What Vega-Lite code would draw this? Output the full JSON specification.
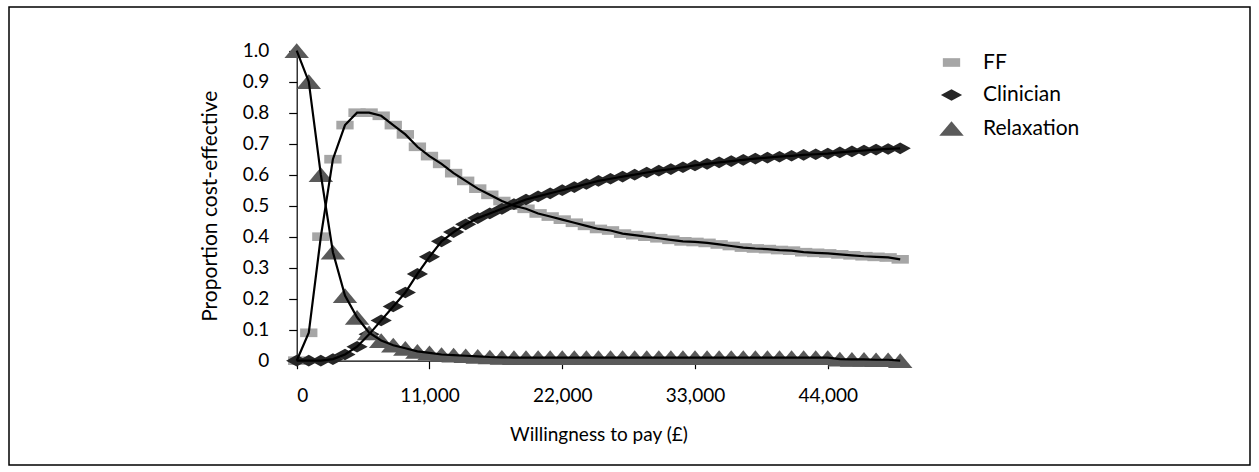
{
  "$schema": "https://vega.github.io/schema/vega-lite/v6.json",
  "width": 1241,
  "height": 458,
  "padding": {"left": 9, "top": 7, "right": 9, "bottom": 7},
  "autosize": {"type": "none"},
  "background": "#ffffff",
  "config": {
    "view": {"stroke": "#000000", "strokeWidth": 1.5},
    "font": "Lato",
    "axis": {"labelFont": "Lato", "titleFont": "Lato", "labelColor": "#000", "titleColor": "#000", "domainColor": "#000", "tickColor": "#000", "grid": false, "labelFontSize": 19, "titleFontSize": 20, "titleFontWeight": "normal", "domainWidth": 1.2, "tickWidth": 1.2},
    "legend": {"labelFont": "Lato", "labelFontSize": 21, "labelColor": "#000"}
  },
  "datasets": {
    "pts": [
      {"x":0,"s":"FF","v":0},{"x":1000,"s":"FF","v":0.09},{"x":2000,"s":"FF","v":0.40},{"x":3000,"s":"FF","v":0.65},{"x":4000,"s":"FF","v":0.76},{"x":5000,"s":"FF","v":0.80},{"x":6000,"s":"FF","v":0.80},{"x":7000,"s":"FF","v":0.79},{"x":8000,"s":"FF","v":0.76},{"x":9000,"s":"FF","v":0.73},{"x":10000,"s":"FF","v":0.69},{"x":11000,"s":"FF","v":0.66},{"x":12000,"s":"FF","v":0.635},{"x":13000,"s":"FF","v":0.605},{"x":14000,"s":"FF","v":0.58},{"x":15000,"s":"FF","v":0.555},{"x":16000,"s":"FF","v":0.535},{"x":17000,"s":"FF","v":0.515},{"x":18000,"s":"FF","v":0.50},{"x":19000,"s":"FF","v":0.49},{"x":20000,"s":"FF","v":0.475},{"x":21000,"s":"FF","v":0.465},{"x":22000,"s":"FF","v":0.455},{"x":23000,"s":"FF","v":0.445},{"x":24000,"s":"FF","v":0.435},{"x":25000,"s":"FF","v":0.425},{"x":26000,"s":"FF","v":0.42},{"x":27000,"s":"FF","v":0.41},{"x":28000,"s":"FF","v":0.405},{"x":29000,"s":"FF","v":0.40},{"x":30000,"s":"FF","v":0.395},{"x":31000,"s":"FF","v":0.39},{"x":32000,"s":"FF","v":0.385},{"x":33000,"s":"FF","v":0.383},{"x":34000,"s":"FF","v":0.38},{"x":35000,"s":"FF","v":0.375},{"x":36000,"s":"FF","v":0.37},{"x":37000,"s":"FF","v":0.365},{"x":38000,"s":"FF","v":0.362},{"x":39000,"s":"FF","v":0.36},{"x":40000,"s":"FF","v":0.357},{"x":41000,"s":"FF","v":0.355},{"x":42000,"s":"FF","v":0.35},{"x":43000,"s":"FF","v":0.348},{"x":44000,"s":"FF","v":0.346},{"x":45000,"s":"FF","v":0.343},{"x":46000,"s":"FF","v":0.34},{"x":47000,"s":"FF","v":0.337},{"x":48000,"s":"FF","v":0.335},{"x":49000,"s":"FF","v":0.333},{"x":50000,"s":"FF","v":0.327},
      {"x":0,"s":"Clinician","v":0},{"x":1000,"s":"Clinician","v":0},{"x":2000,"s":"Clinician","v":0},{"x":3000,"s":"Clinician","v":0.005},{"x":4000,"s":"Clinician","v":0.02},{"x":5000,"s":"Clinician","v":0.045},{"x":6000,"s":"Clinician","v":0.085},{"x":7000,"s":"Clinician","v":0.13},{"x":8000,"s":"Clinician","v":0.175},{"x":9000,"s":"Clinician","v":0.22},{"x":10000,"s":"Clinician","v":0.28},{"x":11000,"s":"Clinician","v":0.335},{"x":12000,"s":"Clinician","v":0.385},{"x":13000,"s":"Clinician","v":0.415},{"x":14000,"s":"Clinician","v":0.44},{"x":15000,"s":"Clinician","v":0.46},{"x":16000,"s":"Clinician","v":0.475},{"x":17000,"s":"Clinician","v":0.49},{"x":18000,"s":"Clinician","v":0.505},{"x":19000,"s":"Clinician","v":0.52},{"x":20000,"s":"Clinician","v":0.53},{"x":21000,"s":"Clinician","v":0.54},{"x":22000,"s":"Clinician","v":0.55},{"x":23000,"s":"Clinician","v":0.56},{"x":24000,"s":"Clinician","v":0.57},{"x":25000,"s":"Clinician","v":0.58},{"x":26000,"s":"Clinician","v":0.587},{"x":27000,"s":"Clinician","v":0.594},{"x":28000,"s":"Clinician","v":0.60},{"x":29000,"s":"Clinician","v":0.607},{"x":30000,"s":"Clinician","v":0.613},{"x":31000,"s":"Clinician","v":0.618},{"x":32000,"s":"Clinician","v":0.624},{"x":33000,"s":"Clinician","v":0.63},{"x":34000,"s":"Clinician","v":0.635},{"x":35000,"s":"Clinician","v":0.64},{"x":36000,"s":"Clinician","v":0.644},{"x":37000,"s":"Clinician","v":0.648},{"x":38000,"s":"Clinician","v":0.652},{"x":39000,"s":"Clinician","v":0.655},{"x":40000,"s":"Clinician","v":0.658},{"x":41000,"s":"Clinician","v":0.661},{"x":42000,"s":"Clinician","v":0.664},{"x":43000,"s":"Clinician","v":0.666},{"x":44000,"s":"Clinician","v":0.668},{"x":45000,"s":"Clinician","v":0.672},{"x":46000,"s":"Clinician","v":0.675},{"x":47000,"s":"Clinician","v":0.678},{"x":48000,"s":"Clinician","v":0.681},{"x":49000,"s":"Clinician","v":0.683},{"x":50000,"s":"Clinician","v":0.685},
      {"x":0,"s":"Relaxation","v":1.0},{"x":1000,"s":"Relaxation","v":0.90},{"x":2000,"s":"Relaxation","v":0.60},{"x":3000,"s":"Relaxation","v":0.35},{"x":4000,"s":"Relaxation","v":0.21},{"x":5000,"s":"Relaxation","v":0.14},{"x":6000,"s":"Relaxation","v":0.09},{"x":7000,"s":"Relaxation","v":0.065},{"x":8000,"s":"Relaxation","v":0.05},{"x":9000,"s":"Relaxation","v":0.04},{"x":10000,"s":"Relaxation","v":0.03},{"x":11000,"s":"Relaxation","v":0.025},{"x":12000,"s":"Relaxation","v":0.02},{"x":13000,"s":"Relaxation","v":0.018},{"x":14000,"s":"Relaxation","v":0.016},{"x":15000,"s":"Relaxation","v":0.014},{"x":16000,"s":"Relaxation","v":0.012},{"x":17000,"s":"Relaxation","v":0.011},{"x":18000,"s":"Relaxation","v":0.01},{"x":19000,"s":"Relaxation","v":0.01},{"x":20000,"s":"Relaxation","v":0.01},{"x":21000,"s":"Relaxation","v":0.01},{"x":22000,"s":"Relaxation","v":0.01},{"x":23000,"s":"Relaxation","v":0.01},{"x":24000,"s":"Relaxation","v":0.01},{"x":25000,"s":"Relaxation","v":0.01},{"x":26000,"s":"Relaxation","v":0.01},{"x":27000,"s":"Relaxation","v":0.01},{"x":28000,"s":"Relaxation","v":0.01},{"x":29000,"s":"Relaxation","v":0.01},{"x":30000,"s":"Relaxation","v":0.01},{"x":31000,"s":"Relaxation","v":0.01},{"x":32000,"s":"Relaxation","v":0.01},{"x":33000,"s":"Relaxation","v":0.01},{"x":34000,"s":"Relaxation","v":0.01},{"x":35000,"s":"Relaxation","v":0.01},{"x":36000,"s":"Relaxation","v":0.01},{"x":37000,"s":"Relaxation","v":0.01},{"x":38000,"s":"Relaxation","v":0.01},{"x":39000,"s":"Relaxation","v":0.01},{"x":40000,"s":"Relaxation","v":0.01},{"x":41000,"s":"Relaxation","v":0.01},{"x":42000,"s":"Relaxation","v":0.01},{"x":43000,"s":"Relaxation","v":0.01},{"x":44000,"s":"Relaxation","v":0.01},{"x":45000,"s":"Relaxation","v":0.005},{"x":46000,"s":"Relaxation","v":0.004},{"x":47000,"s":"Relaxation","v":0.004},{"x":48000,"s":"Relaxation","v":0.003},{"x":49000,"s":"Relaxation","v":0.003},{"x":50000,"s":"Relaxation","v":0}
    ]
  },
  "data": {"name": "pts"},
  "layer": [
    {
      "mark": {"type": "point", "filled": true, "opacity": 1, "strokeWidth": 0},
      "encoding": {
        "x": {"field": "x", "type": "quantitative", "scale": {"domain": [0, 50000], "range": [287.7, 891.2], "nice": false, "zero": false},
          "axis": {"orient": "bottom", "offset": -104.3, "values": [0, 11000, 22000, 33000, 44000], "labelExpr": "format(datum.value, ',')", "tickSize": 8, "labelPadding": 18, "title": "Willingness to pay (£)", "titlePadding": 20, "titleFontSize": 19}},
        "y": {"field": "v", "type": "quantitative", "scale": {"domain": [0, 1], "range": [353.7, 43.7], "nice": false},
          "axis": {"orient": "left", "offset": -287.7, "values": [0, 0.1, 0.2, 0.3, 0.4, 0.5, 0.6, 0.7, 0.8, 0.9, 1.0], "labelExpr": "datum.value == 0 ? '0' : format(datum.value, '.1f')", "tickSize": 8, "labelPadding": 20, "title": "Proportion cost-effective", "titlePadding": 22, "titleFontSize": 21}},
        "shape": {"field": "s", "type": "nominal", "sort": null,
          "scale": {"domain": ["FF", "Clinician", "Relaxation"], "range": ["M-1,-0.5L1,-0.5L1,0.5L-1,0.5Z", "M-1,0L0,-0.55L1,0L0,0.55Z", "M0,-0.6L1,0.6L-1,0.6Z"]},
          "legend": {"title": null, "orient": "none", "legendX": 930, "legendY": 45, "symbolSize": 600, "labelOffset": 19, "rowPadding": 11, "symbolStrokeWidth": 0}},
        "color": {"field": "s", "type": "nominal", "sort": null,
          "scale": {"domain": ["FF", "Clinician", "Relaxation"], "range": ["#a6a6a6", "#262626", "#5a5a5a"]},
          "legend": {"title": null, "orient": "none", "legendX": 930, "legendY": 45, "symbolSize": 600, "labelOffset": 19, "rowPadding": 11, "symbolStrokeWidth": 0}},
        "size": {"field": "s", "type": "nominal", "sort": null,
          "scale": {"domain": ["FF", "Clinician", "Relaxation"], "range": [300, 600, 750]}, "legend": null}
      }
    },
    {
      "mark": {"type": "line", "color": "#000000", "strokeWidth": 2.2},
      "encoding": {
        "x": {"field": "x", "type": "quantitative"},
        "y": {"field": "v", "type": "quantitative"},
        "detail": {"field": "s", "type": "nominal"}
      }
    }
  ]
}
